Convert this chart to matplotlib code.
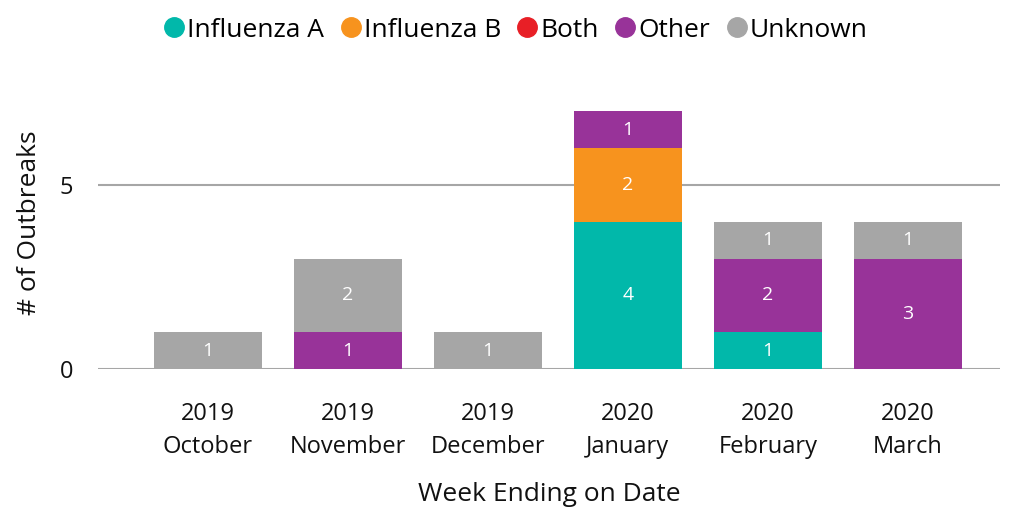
import numpy as np
import matplotlib.pyplot as plt
from matplotlib.lines import Line2D

plt.rcParams['font.family'] = ['Open Sans', 'DejaVu Sans']

# Data
months = ["2019\nOctober", "2019\nNovember", "2019\nDecember",
          "2020\nJanuary", "2020\nFebruary", "2020\nMarch"]
series = ["Influenza A", "Influenza B", "Both", "Other", "Unknown"]
flu_a = [0, 0, 0, 4, 1, 0]
flu_b = [0, 0, 0, 2, 0, 0]
both = [0, 0, 0, 0, 0, 0]
other = [0, 1, 0, 1, 2, 3]
unknown = [1, 2, 1, 0, 1, 1]
colors = ["#01B8AA", "#F7931E", "#E81F26", "#983399", "#A6A6A6"]

fig = plt.figure(figsize=(10.17, 5.07), dpi=100)
ax = fig.add_axes([0.0964, 0.272, 0.8866, 0.545])

x = np.arange(len(months))
bottom = np.zeros(len(months))
for name, vals, col in zip(series, [flu_a, flu_b, both, other, unknown], colors):
    vals = np.array(vals, dtype=float)
    ax.bar(x, vals, width=0.77, bottom=bottom, color=col, zorder=3)
    for xi, v, b in zip(x, vals, bottom):
        if v > 0:
            ax.text(xi, b + v / 2, f"{int(v)}", ha='center', va='center',
                    color='white', fontsize=14, zorder=4)
    bottom += vals

ax.set_xlim(-0.786, 5.657)
ax.set_ylim(0, 7.5)
ax.set_yticks([0, 5])
ax.yaxis.grid(True, color='#A6A6A6', linewidth=1.5, zorder=0)
ax.set_axisbelow(True)
for s in ax.spines.values():
    s.set_visible(False)
ax.tick_params(length=0, labelsize=17, colors='#111111')
ax.tick_params(axis='x', pad=24)
ax.tick_params(axis='y', pad=18)
ax.set_xticks(x)
ax.set_xticklabels(months, linespacing=1.5)

ax.set_xlabel("Week Ending on Date", fontsize=19, color='#111111', labelpad=16)
ax.set_ylabel("# of Outbreaks", fontsize=19, color='#111111')
ax.yaxis.set_label_coords(-0.062, 0.53)

handles = [Line2D([], [], marker='o', linestyle='', markersize=14,
                  markerfacecolor=c, markeredgecolor=c) for c in colors]
fig.legend(handles, series, loc='upper center', bbox_to_anchor=(0.507, 1.012),
           ncol=5, frameon=False, fontsize=19, handletextpad=0.1,
           columnspacing=0.6, handlelength=0.8)

fig.savefig("out.png", dpi=100)
